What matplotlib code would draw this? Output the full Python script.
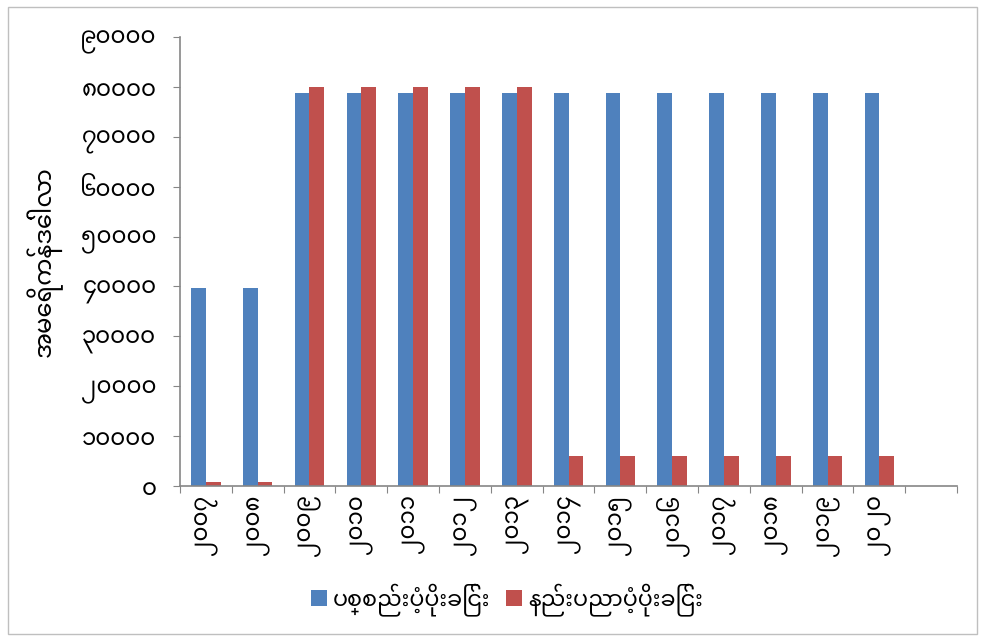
import matplotlib
matplotlib.use("Agg")
import matplotlib.pyplot as plt
from matplotlib.patches import Rectangle
import numpy as np

plt.rcParams['font.family'] = ['Noto Sans Myanmar', 'DejaVu Sans']

# years 2007-2020 in Myanmar digits, plus one empty slot at the end
years = ['၂၀၀၇', '၂၀၀၈', '၂၀၀၉', '၂၀၁၀', '၂၀၁၁', '၂၀၁၂', '၂၀၁၃',
         '၂၀၁၄', '၂၀၁၅', '၂၀၁၆', '၂၀၁၇', '၂၀၁၈', '၂၀၁၉', '၂၀၂၀', '']
material = [39700, 39700, 78800, 78800, 78800, 78800, 78800,
            78800, 78800, 78800, 78800, 78800, 78800, 78800, 0]
technical = [900, 900, 80000, 80000, 80000, 80000, 80000,
             6000, 6000, 6000, 6000, 6000, 6000, 6000, 0]
yticks = np.arange(0, 90001, 10000)
ytick_labels = ['၀', '၁၀၀၀၀', '၂၀၀၀၀', '၃၀၀၀၀', '၄၀၀၀၀', '၅၀၀၀၀',
                '၆၀၀၀၀', '၇၀၀၀၀', '၈၀၀၀၀', '၉၀၀၀၀']
series_names = ['ပစ္စည်းပံ့ပိုးခြင်း', 'နည်းပညာပံ့ပိုးခြင်း']
ylabel = 'အမေရိကန်ဒေါ်လာ'

blue = '#4F81BD'
red = '#C0504D'
axis_gray = '#868686'

fig = plt.figure(figsize=(9.83, 6.37), dpi=100)
ax = fig.add_axes([0.1831, 0.2370, 0.7905, 0.7049])

x = np.arange(len(years))
w = 1 / 3.5
ax.bar(x - w / 2, material, width=w, color=blue, label=series_names[0])
ax.bar(x + w / 2, technical, width=w, color=red, label=series_names[1])

ax.set_xlim(-0.5, len(years) - 0.5)
ax.set_ylim(0, 90000)

# tick marks on category boundaries, labels at the centres
ax.set_xticks(np.arange(-0.5, len(years)), labels=[''] * (len(years) + 1))
ax.set_xticks(x, labels=years, minor=True, rotation=90, fontsize=16.5)
ax.tick_params(axis='x', which='minor', length=0, pad=6)
ax.tick_params(axis='x', which='major', length=5, color=axis_gray, direction='out')

ax.set_yticks(yticks, labels=ytick_labels, fontsize=16.5)
ax.tick_params(axis='y', length=5, color=axis_gray, direction='out', pad=12)

for side in ['top', 'right']:
    ax.spines[side].set_visible(False)
for side in ['left', 'bottom']:
    ax.spines[side].set_color(axis_gray)
    ax.spines[side].set_linewidth(1.2)

ax.set_ylabel(ylabel, fontsize=17.5)
ax.yaxis.set_label_coords(-0.151, 0.5)

fig.legend(loc='center', bbox_to_anchor=(0.516, 0.058), ncol=2, frameon=False,
           fontsize=16, handlelength=0.7, handleheight=0.7, columnspacing=0.7,
           handletextpad=0.3)

fig.patches.append(Rectangle((0.008, 0.005), 0.986, 0.984, transform=fig.transFigure,
                             fill=False, edgecolor='#BFBFBF', linewidth=1))

fig.savefig('out.png', dpi=100)
